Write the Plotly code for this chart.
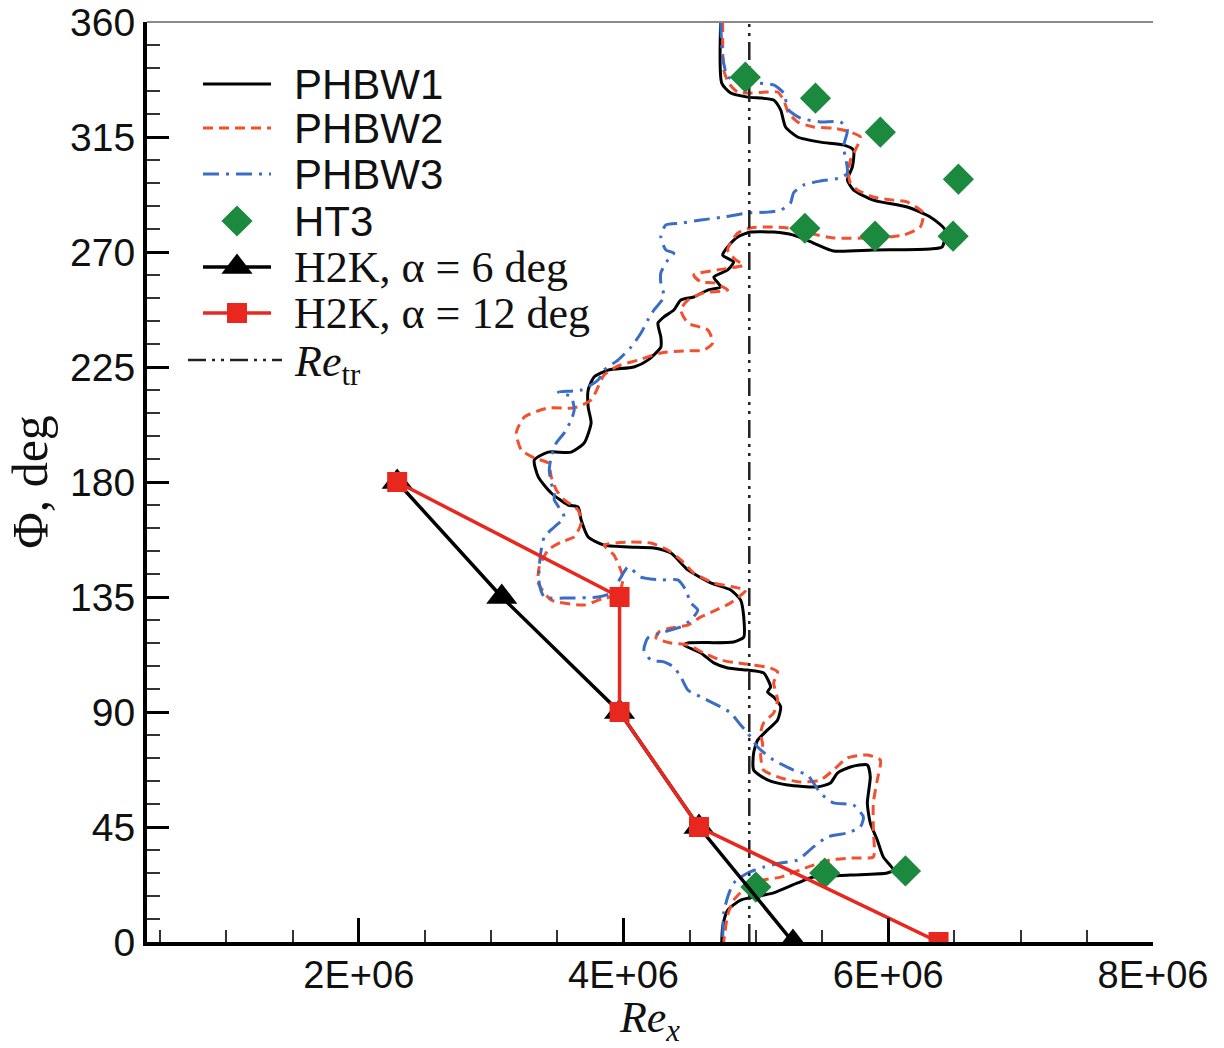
import plotly.graph_objects as go

SCALE = 1e6

# ---------------- data (Re in units of 1E+06, Phi in degrees) ----------------
phbw1_re = [4.734, 4.742, 4.810, 4.938, 5.134, 5.187, 5.224, 5.315, 5.488, 5.661, 5.737, 5.729, 5.691, 5.737,
            5.887, 6.143, 6.317, 6.430, 6.407, 6.317, 5.887, 5.586, 5.435, 5.284, 5.134, 4.960, 4.862, 4.787,
            4.749, 4.832, 4.787, 4.682, 4.734, 4.636, 4.531, 4.433, 4.380, 4.305, 4.260, 4.282, 4.282, 4.184,
            4.079, 3.883, 3.778, 3.733, 3.733, 3.755, 3.703, 3.605, 3.431, 3.326, 3.356, 3.454, 3.582, 3.657,
            3.680, 3.733, 3.853, 4.034, 4.230, 4.358, 4.486, 4.659, 4.810, 4.885, 4.908, 4.908, 4.832, 4.486,
            4.456, 4.584, 4.682, 4.787, 4.938, 5.058, 5.111, 5.088, 5.134, 5.187, 5.164, 5.088, 5.013, 4.983,
            4.983, 5.088, 5.239, 5.465, 5.563, 5.616, 5.714, 5.842, 5.864, 5.842, 5.864, 5.917, 5.962, 6.038,
            5.992, 5.714, 5.435, 5.315, 5.134, 4.983, 4.885, 4.787, 4.749, 4.742]
phbw1_phi = [360.0, 336.1, 332.2, 330.6, 329.5, 325.6, 318.9, 315.0, 313.0, 311.9, 309.9, 303.3, 298.2, 294.3,
             290.3, 287.6, 283.7, 278.6, 272.0, 271.2, 270.8, 270.4, 273.5, 276.6, 277.8, 277.8, 275.9, 272.0,
             268.8, 266.1, 263.0, 260.2, 256.3, 255.1, 252.4, 251.2, 247.3, 244.6, 242.2, 236.7, 232.8, 227.7,
             225.0, 223.8, 221.1, 216.0, 209.3, 203.1, 195.3, 191.7, 191.7, 188.6, 182.0, 175.7, 171.0, 170.2,
             165.1, 158.5, 155.3, 154.6, 154.2, 152.2, 145.6, 140.5, 137.7, 133.8, 127.2, 119.3, 117.4, 117.0,
             116.2, 113.1, 109.2, 107.2, 106.4, 105.3, 99.8, 97.8, 95.9, 92.0, 86.9, 83.0, 79.0, 74.0,
             67.3, 63.4, 61.4, 60.7, 62.2, 66.1, 68.5, 69.3, 64.6, 54.4, 46.6, 39.9, 33.3, 28.2,
             27.0, 26.2, 25.4, 23.1, 19.2, 17.6, 16.4, 12.5, 5.9, 0.0]

phbw2_re = [4.749, 4.757, 4.795, 4.862, 4.960, 5.088, 5.164, 5.209, 5.247, 5.315, 5.435, 5.586, 5.691, 5.789,
            5.751, 5.714, 5.699, 5.714, 5.766, 5.887, 6.038, 6.143, 6.264, 6.241, 6.113, 5.887, 5.586, 5.435,
            5.239, 5.088, 4.960, 4.862, 4.787, 4.847, 4.908, 4.712, 4.531, 4.584, 4.682, 4.787, 4.606, 4.486,
            4.433, 4.486, 4.636, 4.674, 4.606, 4.455, 4.282, 4.109, 3.958, 3.853, 3.808, 3.755, 3.627, 3.431,
            3.250, 3.190, 3.228, 3.326, 3.431, 3.454, 3.492, 3.552, 3.657, 3.680, 3.627, 3.529, 3.431, 3.363,
            3.356, 3.454, 3.703, 3.853, 3.958, 3.996, 3.928, 3.853, 4.034, 4.207, 4.335, 4.433, 4.531, 4.682,
            4.832, 4.923, 4.810, 4.682, 4.584, 4.486, 4.358, 4.267, 4.245, 4.358, 4.486, 4.606, 4.734, 4.862,
            4.983, 5.111, 5.164, 5.134, 5.164, 5.134, 5.058, 5.036, 5.051, 5.036, 5.058, 5.187, 5.337, 5.488,
            5.586, 5.691, 5.842, 5.940, 5.917, 5.887, 5.887, 5.887, 5.737, 5.563, 5.390, 5.187, 5.058, 4.923,
            4.832, 4.787, 4.757]
phbw2_phi = [360.0, 341.2, 336.1, 332.6, 332.2, 332.6, 332.6, 329.5, 324.4, 320.9, 318.9, 318.5, 317.3, 315.0,
             309.9, 306.0, 300.9, 297.0, 294.3, 291.5, 290.3, 289.6, 285.3, 279.8, 276.6, 275.5, 275.5, 277.0,
             279.4, 279.8, 279.4, 277.4, 270.8, 266.9, 264.9, 263.0, 261.0, 258.3, 257.9, 255.1, 254.0, 251.2,
             247.3, 242.2, 239.5, 234.4, 231.6, 231.3, 230.5, 227.7, 225.4, 221.9, 217.2, 212.1, 209.0, 209.0,
             205.4, 199.2, 192.5, 189.4, 187.4, 182.0, 176.9, 173.0, 169.0, 164.0, 158.5, 156.5, 153.4, 146.7,
             140.5, 133.8, 131.9, 134.6, 135.8, 142.4, 151.4, 155.3, 156.5, 156.1, 153.4, 149.5, 144.4, 140.5,
             138.9, 137.7, 132.7, 129.5, 127.2, 124.0, 122.9, 121.3, 119.0, 117.0, 116.2, 113.1, 110.3, 109.2,
             108.4, 107.2, 105.7, 101.4, 94.7, 89.6, 85.7, 81.8, 77.1, 73.2, 67.3, 64.2, 62.6, 63.4,
             67.3, 72.0, 73.2, 71.2, 63.4, 54.4, 43.8, 33.3, 32.9, 32.1, 29.3, 25.4, 24.3, 21.1,
             16.4, 10.6, 0.0]

phbw3_re = [4.734, 4.749, 4.787, 4.862, 5.013, 5.134, 5.209, 5.247, 5.337, 5.488, 5.639, 5.691, 5.661, 5.676,
            5.691, 5.639, 5.488, 5.360, 5.284, 5.262, 5.187, 5.088, 4.938, 4.757, 4.584, 4.433, 4.320, 4.282,
            4.320, 4.380, 4.335, 4.282, 4.282, 4.305, 4.230, 4.184, 4.132, 4.057, 3.958, 3.853, 3.808, 3.680,
            3.507, 3.605, 3.627, 3.605, 3.552, 3.492, 3.454, 3.439, 3.454, 3.477, 3.477, 3.552, 3.477, 3.401,
            3.378, 3.363, 3.363, 3.401, 3.582, 3.808, 3.906, 3.981, 4.034, 4.132, 4.282, 4.410, 4.471, 4.508,
            4.561, 4.508, 4.433, 4.305, 4.184, 4.154, 4.207, 4.305, 4.380, 4.433, 4.486, 4.584, 4.734, 4.810,
            4.885, 4.938, 5.013, 5.134, 5.284, 5.390, 5.488, 5.586, 5.737, 5.812, 5.789, 5.691, 5.540, 5.435,
            5.315, 5.187, 5.058, 4.938, 4.832, 4.787, 4.757, 4.749]
phbw3_phi = [360.0, 346.3, 338.5, 337.3, 336.1, 335.4, 332.2, 325.6, 322.4, 320.9, 320.9, 317.7, 311.1, 307.2,
             300.9, 299.0, 297.8, 296.2, 293.1, 289.2, 286.4, 285.6, 285.3, 283.7, 282.5, 281.3, 280.6, 275.9,
             270.8, 269.6, 266.9, 261.8, 257.9, 252.4, 247.3, 243.4, 238.3, 232.8, 227.7, 223.8, 219.9, 216.0,
             215.2, 213.3, 208.2, 204.3, 199.2, 195.3, 189.8, 184.7, 179.6, 175.7, 173.0, 166.3, 162.4, 158.5,
             153.4, 146.7, 140.5, 135.0, 134.6, 135.0, 136.6, 142.8, 146.7, 142.8, 141.7, 141.7, 137.7, 132.7,
             129.9, 126.0, 123.3, 121.3, 119.0, 114.3, 110.3, 109.6, 107.6, 103.7, 98.6, 95.9, 92.0, 89.6,
             84.9, 81.8, 76.3, 71.2, 67.3, 65.3, 58.3, 54.4, 53.6, 48.9, 45.0, 42.7, 41.1, 37.2,
             32.1, 30.9, 29.3, 27.0, 23.1, 17.6, 11.3, 0.0]

ht3_re = [4.92, 5.45, 5.94, 6.53, 5.37, 5.90, 6.49, 5.00, 5.52, 6.13]
ht3_phi = [338.4, 330.2, 316.9, 298.5, 279.3, 276.2, 276.2, 21.5, 27.0, 27.8]

h2k6_re = [2.29, 3.08, 3.97, 4.57, 5.28]
h2k6_phi = [180, 135, 90, 45, 0]

h2k12_re = [2.29, 3.97, 3.97, 4.57, 6.38]
h2k12_phi = [180, 135, 90, 45, 0]

re_tr = 4.95
phi_span = [0, 360]

x_tickvals = [2, 4, 6, 8]
x_ticktext = ["2E+06", "4E+06", "6E+06", "8E+06"]

legend_labels = ["PHBW1", "PHBW2", "PHBW3", "HT3", "H2K, α = 6 deg", "H2K, α = 12 deg",
                 "<i>Re</i><sub>tr</sub>"]

# ---------------- styles ----------------
SANS = "Liberation Sans, Arial, sans-serif"
SERIF = "Liberation Serif, Times New Roman, serif"
INK = "#111111"

styles = [
    dict(mode="lines", line=dict(color="black", width=3), font=SANS),
    dict(mode="lines", line=dict(color="#f2502f", width=3, dash="10px,6px"), font=SANS),
    dict(mode="lines", line=dict(color="#3b6cc6", width=3, dash="16px,7px,3px,7px"), font=SANS),
    dict(mode="markers", marker=dict(symbol="diamond", size=24, color="#1b8a3e"), font=SANS),
    dict(mode="lines+markers", line=dict(color="black", width=3.5),
         marker=dict(symbol="triangle-up", size=27, color="black"), font=SERIF),
    dict(mode="lines+markers", line=dict(color="#e8281f", width=3.5),
         marker=dict(symbol="square", size=20, color="#e8281f"), font=SERIF),
    dict(mode="lines", line=dict(color="#222222", width=2.5, dash="18px,6px,3px,6px,3px,6px"), font=SERIF),
]


def sc(v):
    return [a * SCALE for a in v]


series = [
    (sc(phbw1_re), phbw1_phi),
    (sc(phbw2_re), phbw2_phi),
    (sc(phbw3_re), phbw3_phi),
    (sc(ht3_re), ht3_phi),
    (sc(h2k6_re), h2k6_phi),
    (sc(h2k12_re), h2k12_phi),
    ([re_tr * SCALE, re_tr * SCALE], phi_span),
]
draw_order = [0, 1, 2, 6, 3, 4, 5]

fig = go.Figure()
for i in draw_order:
    xs, ys = series[i]
    st = styles[i]
    kw = dict(x=xs, y=ys, mode=st["mode"], name=legend_labels[i], showlegend=False)
    if "line" in st:
        line = dict(st["line"])
        if i < 3:
            line.update(shape="spline", smoothing=0.6)
        kw["line"] = line
    if "marker" in st:
        kw["marker"] = st["marker"]
    fig.add_trace(go.Scatter(**kw))

# ---------------- hand-drawn legend (overlay axes in screen pixels) ----------------
row_y = [84, 128, 174, 221, 267, 313, 360]
line_x = [[203, 271]] * 6 + [[188, 282]]
text_x = 292
annotations = []
for i in range(7):
    st = styles[i]
    if "line" in st:
        fig.add_trace(go.Scatter(x=line_x[i], y=[row_y[i], row_y[i]], mode="lines", line=st["line"],
                                 xaxis="x2", yaxis="y2", showlegend=False, hoverinfo="skip"))
    if "marker" in st:
        fig.add_trace(go.Scatter(x=[237], y=[row_y[i]], mode="markers", marker=st["marker"],
                                 xaxis="x2", yaxis="y2", showlegend=False, hoverinfo="skip"))
    size = 42 if st["font"] == SANS else 44
    annotations.append(dict(x=text_x, y=row_y[i] + (0 if i < 6 else 4), xref="x2", yref="y2",
                            text=legend_labels[i], showarrow=False, xanchor="left", yanchor="middle",
                            font=dict(family=st["font"], size=size, color=INK)))

fig.update_layout(
    width=1224, height=1048,
    margin=dict(l=147, r=71, t=22, b=106, autoexpand=False),
    paper_bgcolor="white", plot_bgcolor="white",
    font=dict(family=SANS, size=40, color=INK),
    showlegend=False,
    annotations=annotations,
    shapes=[dict(type="line", xref="paper", yref="paper", x0=0, x1=1, y0=1, y1=1,
                 line=dict(color="#8a8a8a", width=2))],
    xaxis=dict(
        range=[0.4 * SCALE, 8 * SCALE],
        tickmode="array",
        tickvals=[v * SCALE for v in x_tickvals], ticktext=x_ticktext,
        ticks="inside", ticklen=24, tickwidth=3, tickcolor="black",
        minor=dict(tickmode="linear", tick0=0, dtick=0.5 * SCALE, ticks="inside", ticklen=12,
                   tickwidth=2, tickcolor="#333333"),
        showline=True, linewidth=4, linecolor="black",
        showgrid=False, zeroline=False,
        tickfont=dict(family=SANS, size=38, color=INK),
        ticklabelstandoff=-4,
        title=dict(text="<i>Re</i><sub><i>x</i></sub>", font=dict(family=SERIF, size=44, color=INK),
                   standoff=10),
    ),
    yaxis=dict(
        range=[0, 360], tickmode="linear", tick0=0, dtick=45,
        ticks="inside", ticklen=22, tickwidth=3, tickcolor="black",
        minor=dict(tickmode="linear", tick0=0, dtick=9, ticks="inside", ticklen=13,
                   tickwidth=2, tickcolor="#333333"),
        showline=True, linewidth=4, linecolor="black",
        showgrid=False, zeroline=False,
        tickfont=dict(family=SANS, size=39, color=INK),
        title=dict(text="Φ, deg", font=dict(family=SERIF, size=50, color=INK), standoff=8),
    ),
    xaxis2=dict(overlaying="x", range=[147, 1153], visible=False, fixedrange=True),
    yaxis2=dict(overlaying="y", range=[942, 22], visible=False, fixedrange=True),
)

fig.write_html("out.html")
